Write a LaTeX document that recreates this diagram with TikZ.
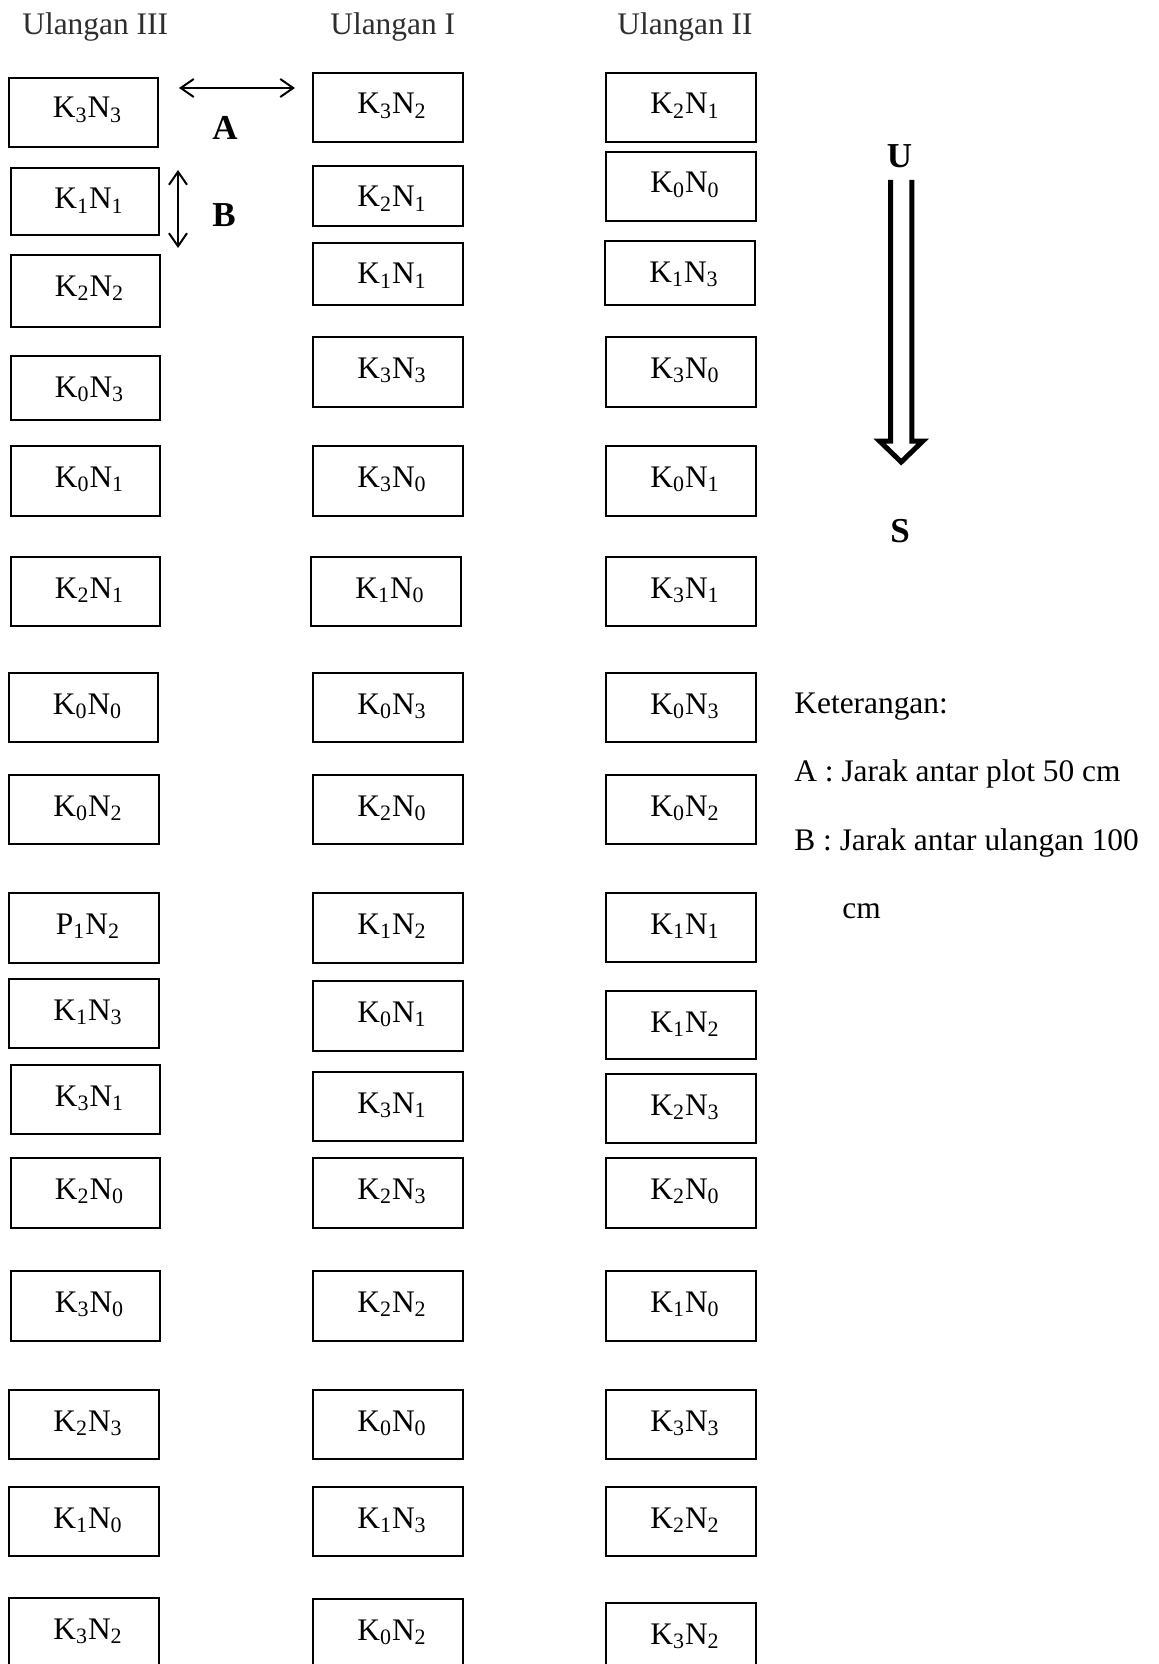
\documentclass[tikz,border=0pt]{standalone}
\usepackage{fontspec}
\setmainfont{Liberation Serif}
\usetikzlibrary{arrows.meta,fit}

% one plot cell: [baseline offset from top] {name}{x1}{y1}{x2}{y2}{label}
\newcommand\plotcell[7][41]{%
  \node[plotframe, fit={(#3,#4) (#5,#6)}] (#2) {};
  \node[plotlabel] (#2-t) at ([shift={(4,#1)}]#2.north) {#7};%
}
\newcommand\kn[2]{K\textsubscript{#1}N\textsubscript{#2}}

\begin{document}
\begin{tikzpicture}[x=0.5pt, y=-0.5pt,
  every node/.style={font=\fontsize{15.7pt}{18pt}\selectfont},
  plotframe/.style={draw=black, line width=0.8pt, inner sep=0pt, outer sep=0pt},
  plotlabel/.style={anchor=base, inner sep=0pt},
  header/.style={anchor=base west, inner sep=0pt, text=black!82},
  note/.style={anchor=base west, inner sep=0pt},
  letter/.style={anchor=base, inner sep=0pt, font=\fontsize{17.5pt}{20pt}\selectfont\bfseries},
  gap/.style={line width=1pt, {Straight Barb[length=6.5pt,width=9pt]}-{Straight Barb[length=6.5pt,width=9pt]}},
  compass/.style={line width=2.5pt, line join=miter, line cap=butt}
]
\useasboundingbox (0,0) rectangle (1158,1664);

% column headings
\node[header] (h3) at (22,35) {Ulangan III};
\node[header] (h1) at (330,35) {Ulangan I};
\node[header] (h2) at (617,35) {Ulangan II};

% Ulangan III
\plotcell[40]{a1}{9}{78}{158}{147}{\kn33}
\plotcell{a2}{11}{168}{159}{235}{\kn11}
\plotcell{a3}{11}{255}{160}{327}{\kn22}
\plotcell{a4}{11}{356}{160}{420}{\kn03}
\plotcell{a5}{11}{446}{160}{516}{\kn01}
\plotcell{a6}{11}{557}{160}{626}{\kn21}
\plotcell{a7}{9}{673}{158}{742}{\kn00}
\plotcell{a8}{9}{775}{159}{844}{\kn02}
\plotcell{a9}{9}{893}{159}{963}{P\textsubscript{1}N\textsubscript{2}}
\plotcell{a10}{9}{979}{159}{1048}{\kn13}
\plotcell{a11}{11}{1065}{160}{1134}{\kn31}
\plotcell{a12}{11}{1158}{160}{1228}{\kn20}
\plotcell{a13}{11}{1271}{160}{1341}{\kn30}
\plotcell{a14}{9}{1390}{159}{1459}{\kn23}
\plotcell{a15}{9}{1487}{159}{1556}{\kn10}
\plotcell{a16}{9}{1598}{159}{1672}{\kn32}

% Ulangan I
\plotcell{b1}{313}{73}{463}{142}{\kn32}
\plotcell{b2}{313}{166}{463}{226}{\kn21}
\plotcell{b3}{313}{243}{463}{305}{\kn11}
\plotcell{b4}{313}{337}{463}{407}{\kn33}
\plotcell{b5}{313}{446}{463}{516}{\kn30}
\plotcell{b6}{311}{557}{461}{626}{\kn10}
\plotcell{b7}{313}{673}{463}{742}{\kn03}
\plotcell{b8}{313}{775}{463}{844}{\kn20}
\plotcell{b9}{313}{893}{463}{963}{\kn12}
\plotcell{b10}{313}{981}{463}{1051}{\kn01}
\plotcell{b11}{313}{1072}{463}{1141}{\kn31}
\plotcell{b12}{313}{1158}{463}{1228}{\kn23}
\plotcell{b13}{313}{1271}{463}{1341}{\kn22}
\plotcell{b14}{313}{1390}{463}{1459}{\kn00}
\plotcell{b15}{313}{1487}{463}{1556}{\kn13}
\plotcell{b16}{313}{1599}{463}{1672}{\kn02}

% Ulangan II
\plotcell{c1}{606}{73}{756}{142}{\kn21}
\plotcell{c2}{606}{152}{756}{221}{\kn00}
\plotcell{c3}{605}{241}{755}{305}{\kn13}
\plotcell{c4}{606}{337}{756}{407}{\kn30}
\plotcell{c5}{606}{446}{756}{516}{\kn01}
\plotcell{c6}{606}{557}{756}{626}{\kn31}
\plotcell{c7}{606}{673}{756}{742}{\kn03}
\plotcell{c8}{606}{775}{756}{844}{\kn02}
\plotcell{c9}{606}{893}{756}{962}{\kn11}
\plotcell{c10}{606}{991}{756}{1059}{\kn12}
\plotcell{c11}{606}{1074}{756}{1143}{\kn23}
\plotcell{c12}{606}{1158}{756}{1228}{\kn20}
\plotcell{c13}{606}{1271}{756}{1341}{\kn10}
\plotcell{c14}{606}{1390}{756}{1459}{\kn33}
\plotcell{c15}{606}{1487}{756}{1556}{\kn22}
\plotcell{c16}{606}{1603}{756}{1672}{\kn32}

% spacing markers
\coordinate (aW) at (179,88);
\coordinate (aE) at (295,88);
\draw[gap] (aW) -- (aE);
\node[letter] (lA) at (225,140) {A};
\coordinate (bN) at (178,170);
\coordinate (bS) at (178,248);
\draw[gap] (bN) -- (bS);
\node[letter] (lB) at (224,227) {B};

% north-south indicator
\node[letter] (north) at (899.5,168) {U};
\node[letter] (south) at (900,542) {S};
\coordinate (sL) at (890.6,180);
\coordinate (sR) at (911.8,180);
\coordinate (hL) at (879.5,441);
\coordinate (hR) at (922.9,441);
\coordinate (tip) at (901.2,462);
\draw[compass] (sL) -- (sL |- hL) -- (hL) -- (tip) -- (hR) -- (sR |- hR) -- (sR);

% legend
\node[note] (k0) at (794,713) {Keterangan:};
\node[note] (k1) at (794,781) {A : Jarak antar plot 50 cm};
\node[note] (k2) at (794,850) {B : Jarak antar ulangan 100};
\node[note] (k3) at (842,918) {cm};
\end{tikzpicture}
\end{document}
